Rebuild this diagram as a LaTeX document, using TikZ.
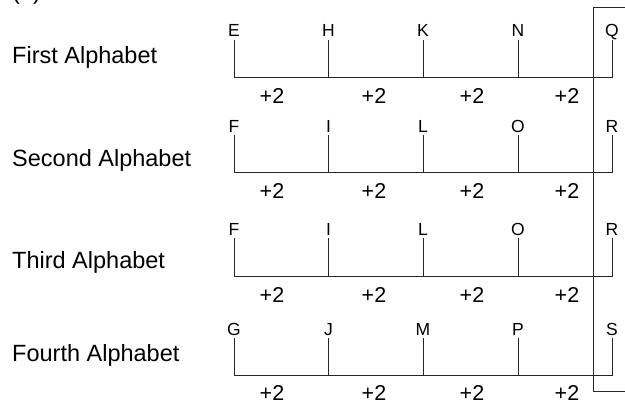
\documentclass[tikz,border=0pt]{standalone}
\usepackage{fontspec}
\setmainfont{Liberation Sans}
\begin{document}
\begin{tikzpicture}[x=1pt,y=-1pt,
  ln/.style={line width=0.9pt, draw=black!85},
  letter/.style={font=\fontsize{17.5}{19}\selectfont, anchor=base, inner sep=0pt, inner ysep=3pt, text depth=0pt},
  plus/.style={font=\fontsize{21.5}{24}\selectfont, anchor=base, inner sep=0pt, text depth=0pt},
  rowlabel/.style={font=\fontsize{23.5}{27}\selectfont, anchor=base west, inner sep=0pt}]
\useasboundingbox (0,0) rectangle (625,405);
\node[rowlabel] (top) at (12,-1) {(2)};
% row data: index / letter baseline / line y / plus baseline / label baseline / label / letters
\foreach \r/\lb/\B/\pb/\tb/\name/\la/\lbb/\lc/\ld/\le in {
  1/36.5/77/103/63/First Alphabet/E/H/K/N/Q,
  2/132/172/198/166/Second Alphabet/F/I/L/O/R,
  3/235/276/302/268/Third Alphabet/F/I/L/O/R,
  4/335/375/400.5/361/Fourth Alphabet/G/J/M/P/S}{
  \node[rowlabel] (name\r) at (12,\tb) {\name};
  \node[letter] (l\r1) at (234,\lb) {\la};
  \node[letter] (l\r2) at (328.5,\lb) {\lbb};
  \node[letter] (l\r3) at (423,\lb) {\lc};
  \node[letter] (l\r4) at (518,\lb) {\ld};
  \node[letter] (l\r5) at (612,\lb) {\le};
  \coordinate (b\r1) at (234,\B);
  \coordinate (b\r2) at (328.5,\B);
  \coordinate (b\r3) at (423,\B);
  \coordinate (b\r4) at (518,\B);
  \coordinate (b\r5) at (612,\B);
  \draw[ln] (l\r1.south) -- (b\r1) -- (b\r5) -- (l\r5.south);
  \draw[ln] (l\r2.south) -- (b\r2);
  \draw[ln] (l\r3.south) -- (b\r3);
  \draw[ln] (l\r4.south) -- (b\r4);
  \node[plus] (p\r1) at (272,\pb) {+2};
  \node[plus] (p\r2) at (374,\pb) {+2};
  \node[plus] (p\r3) at (472,\pb) {+2};
  \node[plus] (p\r4) at (567,\pb) {+2};
}
\coordinate (bt0) at (625,7);
\coordinate (bt1) at (593,7);
\coordinate (bt2) at (593,391);
\coordinate (bt3) at (625,391);
\draw[ln] (bt0) -- (bt1) -- (bt2) -- (bt3);
\end{tikzpicture}
\end{document}
